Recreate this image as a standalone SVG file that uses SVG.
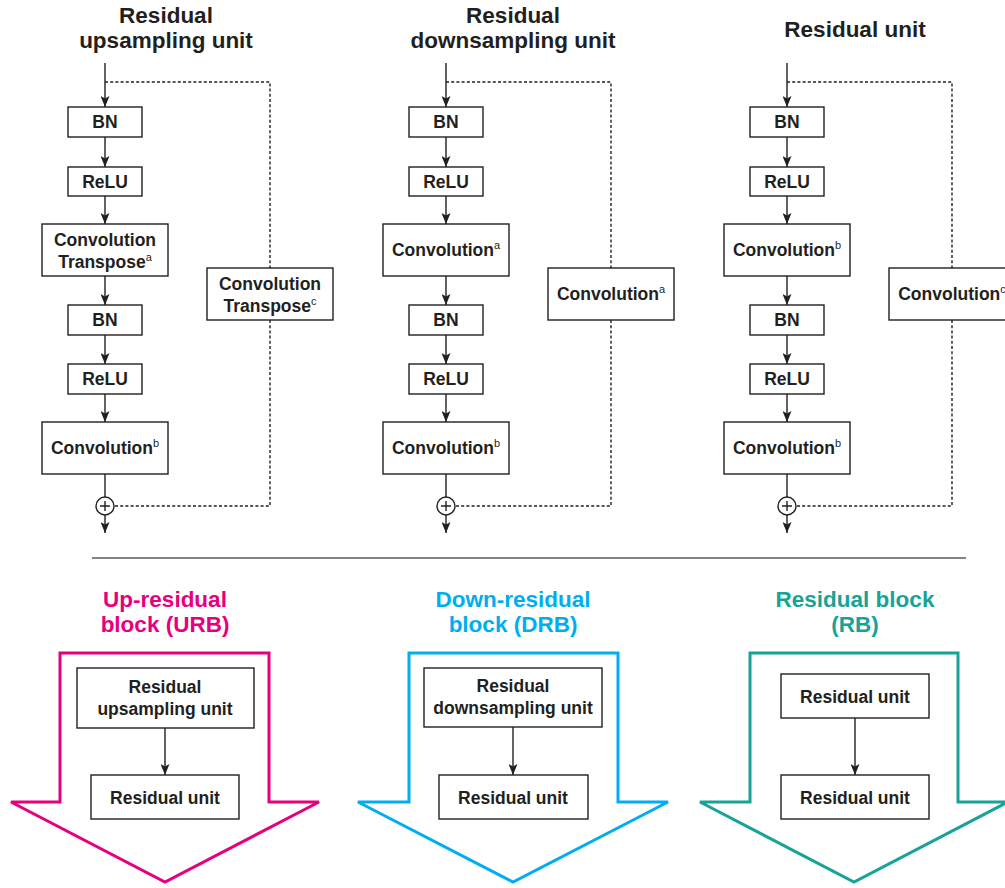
<svg xmlns="http://www.w3.org/2000/svg" width="1005" height="888" viewBox="0 0 1005 888">
  <defs>
    <marker id="ah" markerUnits="userSpaceOnUse" viewBox="0 0 11 9" refX="11" refY="4.5" markerWidth="11" markerHeight="9" orient="auto">
      <path d="M0,0 L11,4.5 L0,9 L2.5,4.5 Z" fill="#231f20"/>
    </marker>
  </defs>
  <style>
    text { font-family: "Liberation Sans", Arial, sans-serif; font-weight: bold; fill: #231f20; text-anchor: middle; }
    .t { font-size: 22.5px; }
    .b { font-size: 17.5px; }
    .sup { font-size: 11px; font-weight: normal; }
    .box { fill: #ffffff; stroke: #231f20; stroke-width: 1.4; }
    .ln { stroke: #231f20; stroke-width: 1.4; fill: none; }
    .dot { stroke: #231f20; stroke-width: 1.4; fill: none; stroke-dasharray: 3 2.2; }
    .arr { marker-end: url(#ah); }
    .big { fill: #ffffff; stroke-width: 3; stroke-linejoin: miter; }
  </style>
  <rect width="1005" height="888" fill="#ffffff"/>

  <!-- Titles -->
  <g id="title-up"><text class="t" x="166" y="23">Residual</text><text class="t" x="166" y="48">upsampling unit</text></g>
  <g id="title-down"><text class="t" x="513" y="23">Residual</text><text class="t" x="513" y="48">downsampling unit</text></g>
  <g id="title-unit"><text class="t" x="855" y="37">Residual unit</text></g>

  <!-- Column 1 connectors -->
  <g id="connectors-col1">
    <line class="ln arr" x1="105" y1="63" x2="105" y2="107"/>
    <line class="ln arr" x1="105" y1="137" x2="105" y2="167"/>
    <line class="ln arr" x1="105" y1="196" x2="105" y2="224"/>
    <line class="ln arr" x1="105" y1="276" x2="105" y2="305"/>
    <line class="ln arr" x1="105" y1="335" x2="105" y2="364"/>
    <line class="ln arr" x1="105" y1="394" x2="105" y2="422"/>
    <line class="ln" x1="105" y1="474" x2="105" y2="497"/>
    <line class="ln arr" x1="105" y1="515" x2="105" y2="533"/>
    <polyline class="dot" points="105,82 270,82 270,268"/>
    <polyline class="dot" points="270,320 270,506 114,506"/>
  </g>
  <!-- Column 2 connectors -->
  <g id="connectors-col2" transform="translate(341,0)">
    <line class="ln arr" x1="105" y1="63" x2="105" y2="107"/>
    <line class="ln arr" x1="105" y1="137" x2="105" y2="167"/>
    <line class="ln arr" x1="105" y1="196" x2="105" y2="224"/>
    <line class="ln arr" x1="105" y1="276" x2="105" y2="305"/>
    <line class="ln arr" x1="105" y1="335" x2="105" y2="364"/>
    <line class="ln arr" x1="105" y1="394" x2="105" y2="422"/>
    <line class="ln" x1="105" y1="474" x2="105" y2="497"/>
    <line class="ln arr" x1="105" y1="515" x2="105" y2="533"/>
    <polyline class="dot" points="105,82 270,82 270,268"/>
    <polyline class="dot" points="270,320 270,506 114,506"/>
  </g>
  <!-- Column 3 connectors -->
  <g id="connectors-col3" transform="translate(682,0)">
    <line class="ln arr" x1="105" y1="63" x2="105" y2="107"/>
    <line class="ln arr" x1="105" y1="137" x2="105" y2="167"/>
    <line class="ln arr" x1="105" y1="196" x2="105" y2="224"/>
    <line class="ln arr" x1="105" y1="276" x2="105" y2="305"/>
    <line class="ln arr" x1="105" y1="335" x2="105" y2="364"/>
    <line class="ln arr" x1="105" y1="394" x2="105" y2="422"/>
    <line class="ln" x1="105" y1="474" x2="105" y2="497"/>
    <line class="ln arr" x1="105" y1="515" x2="105" y2="533"/>
    <polyline class="dot" points="105,82 270,82 270,268"/>
    <polyline class="dot" points="270,320 270,506 114,506"/>
  </g>

  <!-- Column 1 nodes -->
  <g id="up-bn1"><rect class="box" x="68" y="107" width="74" height="30"/><text class="b" x="105" y="128">BN</text></g>
  <g id="up-relu1"><rect class="box" x="68" y="167" width="74" height="29"/><text class="b" x="105" y="188">ReLU</text></g>
  <g id="up-convt"><rect class="box" x="42" y="224" width="126" height="52"/><text class="b" x="105" y="246">Convolution</text><text class="b" x="105" y="268">Transpose<tspan class="sup" dy="-7">a</tspan></text></g>
  <g id="up-bn2"><rect class="box" x="68" y="305" width="74" height="30"/><text class="b" x="105" y="326">BN</text></g>
  <g id="up-relu2"><rect class="box" x="68" y="364" width="74" height="30"/><text class="b" x="105" y="385">ReLU</text></g>
  <g id="up-conv"><rect class="box" x="42" y="422" width="126" height="52"/><text class="b" x="105" y="454">Convolution<tspan class="sup" dy="-7">b</tspan></text></g>
  <g id="up-skip"><rect class="box" x="207" y="268" width="126" height="52"/><text class="b" x="270" y="290">Convolution</text><text class="b" x="270" y="312">Transpose<tspan class="sup" dy="-7">c</tspan></text></g>
  <g id="up-sum"><circle class="box" cx="105" cy="506" r="9" stroke-width="1.6"/><path class="ln" d="M100,506 H110 M105,501 V511" stroke-width="2.2"/></g>

  <!-- Column 2 nodes -->
  <g id="down-bn1"><rect class="box" x="409" y="107" width="74" height="30"/><text class="b" x="446" y="128">BN</text></g>
  <g id="down-relu1"><rect class="box" x="409" y="167" width="74" height="29"/><text class="b" x="446" y="188">ReLU</text></g>
  <g id="down-conv1"><rect class="box" x="383" y="224" width="126" height="52"/><text class="b" x="446" y="256">Convolution<tspan class="sup" dy="-7">a</tspan></text></g>
  <g id="down-bn2"><rect class="box" x="409" y="305" width="74" height="30"/><text class="b" x="446" y="326">BN</text></g>
  <g id="down-relu2"><rect class="box" x="409" y="364" width="74" height="30"/><text class="b" x="446" y="385">ReLU</text></g>
  <g id="down-conv2"><rect class="box" x="383" y="422" width="126" height="52"/><text class="b" x="446" y="454">Convolution<tspan class="sup" dy="-7">b</tspan></text></g>
  <g id="down-skip"><rect class="box" x="548" y="268" width="126" height="52"/><text class="b" x="611" y="300">Convolution<tspan class="sup" dy="-7">a</tspan></text></g>
  <g id="down-sum"><circle class="box" cx="446" cy="506" r="9" stroke-width="1.6"/><path class="ln" d="M441,506 H451 M446,501 V511" stroke-width="2.2"/></g>

  <!-- Column 3 nodes -->
  <g id="unit-bn1"><rect class="box" x="750" y="107" width="74" height="30"/><text class="b" x="787" y="128">BN</text></g>
  <g id="unit-relu1"><rect class="box" x="750" y="167" width="74" height="29"/><text class="b" x="787" y="188">ReLU</text></g>
  <g id="unit-conv1"><rect class="box" x="724" y="224" width="126" height="52"/><text class="b" x="787" y="256">Convolution<tspan class="sup" dy="-7">b</tspan></text></g>
  <g id="unit-bn2"><rect class="box" x="750" y="305" width="74" height="30"/><text class="b" x="787" y="326">BN</text></g>
  <g id="unit-relu2"><rect class="box" x="750" y="364" width="74" height="30"/><text class="b" x="787" y="385">ReLU</text></g>
  <g id="unit-conv2"><rect class="box" x="724" y="422" width="126" height="52"/><text class="b" x="787" y="454">Convolution<tspan class="sup" dy="-7">b</tspan></text></g>
  <g id="unit-skip"><rect class="box" x="889" y="268" width="126" height="52"/><text class="b" x="952" y="300">Convolution<tspan class="sup" dy="-7">c</tspan></text></g>
  <g id="unit-sum"><circle class="box" cx="787" cy="506" r="9" stroke-width="1.6"/><path class="ln" d="M782,506 H792 M787,501 V511" stroke-width="2.2"/></g>

  <!-- Separator -->
  <line id="separator" x1="92" y1="558" x2="966" y2="558" stroke="#5a5a5a" stroke-width="1.6"/>

  <!-- URB -->
  <g id="urb">
    <text class="t" x="165" y="607" style="fill:#e6007e">Up-residual</text>
    <text class="t" x="165" y="632" style="fill:#e6007e">block (URB)</text>
    <polygon class="big" stroke="#e6007e" points="60,653 269,653 269,802 319,802 165,882 11,802 60,802"/>
  </g>
  <g id="urb-unit1"><rect class="box" x="77" y="668" width="177" height="60"/><text class="b" x="165" y="693">Residual</text><text class="b" x="165" y="715">upsampling unit</text></g>
  <g id="urb-unit2"><rect class="box" x="91" y="775" width="148" height="44"/><text class="b" x="165" y="804">Residual unit</text></g>

  <!-- DRB -->
  <g id="drb">
    <text class="t" x="513" y="607" style="fill:#00aeef">Down-residual</text>
    <text class="t" x="513" y="632" style="fill:#00aeef">block (DRB)</text>
    <polygon class="big" stroke="#00aeef" points="409,653 618,653 618,802 668,802 513,882 358,802 409,802"/>
  </g>
  <g id="drb-unit1"><rect class="box" x="424" y="668" width="178" height="59"/><text class="b" x="513" y="692">Residual</text><text class="b" x="513" y="714">downsampling unit</text></g>
  <g id="drb-unit2"><rect class="box" x="439" y="775" width="149" height="44"/><text class="b" x="513" y="804">Residual unit</text></g>

  <!-- RB -->
  <g id="rb">
    <text class="t" x="855" y="607" style="fill:#17a398">Residual block</text>
    <text class="t" x="855" y="632" style="fill:#17a398">(RB)</text>
    <polygon class="big" stroke="#17a398" points="750,653 958,653 958,802 1008,802 854,882 700,802 750,802"/>
  </g>
  <g id="rb-unit1"><rect class="box" x="781" y="674" width="148" height="44"/><text class="b" x="855" y="703">Residual unit</text></g>
  <g id="rb-unit2"><rect class="box" x="781" y="775" width="148" height="44"/><text class="b" x="855" y="804">Residual unit</text></g>

  <g id="connectors-blocks">
    <line class="ln arr" x1="165" y1="728" x2="165" y2="775"/>
    <line class="ln arr" x1="513" y1="727" x2="513" y2="775"/>
    <line class="ln arr" x1="855" y1="718" x2="855" y2="775"/>
  </g>
</svg>
